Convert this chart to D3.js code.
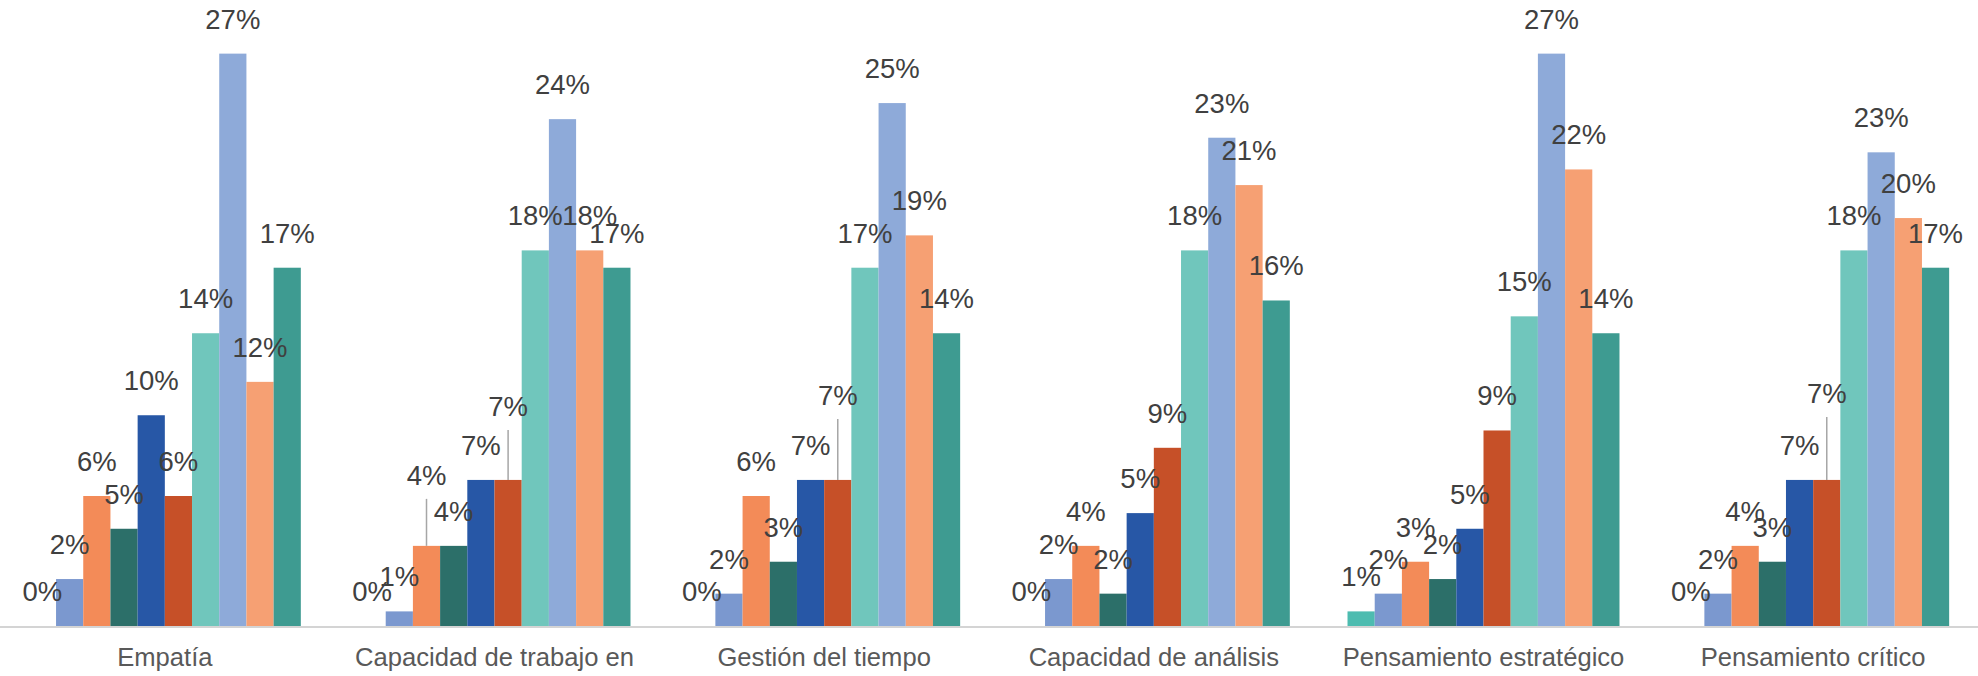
<!DOCTYPE html>
<html>
<head>
<meta charset="utf-8">
<script src="https://cdn.jsdelivr.net/npm/d3@7"></script>
<style>
  html, body { margin: 0; padding: 0; background: #ffffff; }
  svg { display: block; }
</style>
</head>
<body>
<svg id="chart" width="1978" height="676"></svg>
<script>
// Competencias evaluadas (eje X)
const categories = [
  "Empatía",
  "Capacidad de trabajo en",
  "Gestión del tiempo",
  "Capacidad de análisis",
  "Pensamiento estratégico",
  "Pensamiento crítico"
];

// Porcentaje de cada una de las 10 series, por competencia
const empatia       = [0.000, 0.0225, 0.0623, 0.0466, 0.101, 0.0623, 0.1403, 0.2743, 0.117, 0.1717];
const trabajoEquipo = [0.000, 0.0070, 0.0384, 0.0384, 0.070, 0.0700, 0.1800, 0.2429, 0.180, 0.1717];
const gestionTiempo = [0.000, 0.0155, 0.0623, 0.0308, 0.070, 0.0700, 0.1717, 0.2506, 0.1872, 0.1403];
const analisis      = [0.000, 0.0225, 0.0384, 0.0155, 0.0541, 0.0854, 0.1800, 0.2340, 0.2113, 0.1560];
const estrategico   = [0.0070, 0.0155, 0.0308, 0.0225, 0.0466, 0.0937, 0.1484, 0.2743, 0.2188, 0.1403];
const critico       = [0.000, 0.0155, 0.0384, 0.0308, 0.070, 0.0700, 0.1800, 0.2270, 0.1955, 0.1717];

const valuesByCategory = [empatia, trabajoEquipo, gestionTiempo, analisis, estrategico, critico];

// Color de cada serie
const seriesColors = [
  "#4dbcb0", "#7b98cf", "#f38b58", "#2c6f69", "#2757a6",
  "#c65028", "#70c6bc", "#8eaad9", "#f6a073", "#3e9b91"
];

// Etiquetas desplazadas hacia arriba con línea guía: [competencia, serie, desplazamiento px]
const liftedLabels = [[1, 2, 36], [1, 5, 39], [2, 5, 50], [5, 5, 52]];

const width = 1978, height = 676;
const baseY = 626;

const svg = d3.select("#chart");
svg.append("rect").attr("width", width).attr("height", height).attr("fill", "#ffffff");

const x0 = d3.scaleBand()
  .domain(categories)
  .range([0, width])
  .paddingInner(0.175)
  .paddingOuter(0.0875);

const seriesIdx = d3.range(seriesColors.length);
const x1 = d3.scaleBand()
  .domain(seriesIdx)
  .range([0, x0.bandwidth()])
  .padding(0);

const y = d3.scaleLinear().domain([0, 0.30]).range([baseY, 0]);

const fmt = d3.format(".0%");

const rows = [];
categories.forEach((c, ci) => {
  valuesByCategory[ci].forEach((v, si) => rows.push({ c, ci, si, v }));
});

const liftOf = (ci, si) => {
  const m = liftedLabels.find(d => d[0] === ci && d[1] === si);
  return m ? m[2] : 0;
};

// Barras
svg.append("g").selectAll("rect")
  .data(rows)
  .join("rect")
  .attr("x", d => x0(d.c) + x1(d.si))
  .attr("width", x1.bandwidth())
  .attr("y", d => y(d.v))
  .attr("height", d => baseY - y(d.v))
  .attr("fill", d => seriesColors[d.si]);

// Eje X
const xAxis = svg.append("g")
  .attr("transform", `translate(0,${baseY})`)
  .call(d3.axisBottom(x0).tickSize(0).tickPadding(0));
xAxis.select(".domain")
  .attr("stroke", "#d4d4d4")
  .attr("stroke-width", 2)
  .attr("d", `M0,1H${width}`);
xAxis.selectAll(".tick text")
  .attr("y", 40)
  .attr("dy", 0)
  .attr("fill", "#595959")
  .style("font-family", "'Liberation Sans', Arial, sans-serif")
  .style("font-size", "25.6px");

// Líneas guía de etiquetas desplazadas
const labelG = svg.append("g");
labelG.selectAll("line")
  .data(rows.filter(d => liftOf(d.ci, d.si) > 0))
  .join("line")
  .attr("x1", d => x0(d.c) + x1(d.si) + x1.bandwidth() / 2)
  .attr("x2", d => x0(d.c) + x1(d.si) + x1.bandwidth() / 2)
  .attr("y1", d => y(d.v) - 25 - liftOf(d.ci, d.si) + 14)
  .attr("y2", d => y(d.v))
  .attr("stroke", "#a6a6a6")
  .attr("stroke-width", 1.5);

// Etiquetas de datos
labelG.selectAll("text")
  .data(rows)
  .join("text")
  .attr("x", d => x0(d.c) + x1(d.si) + x1.bandwidth() / 2)
  .attr("y", d => y(d.v) - 25 - liftOf(d.ci, d.si))
  .attr("text-anchor", "middle")
  .attr("fill", "#404040")
  .style("font-family", "'Liberation Sans', Arial, sans-serif")
  .style("font-size", "27.5px")
  .text(d => fmt(d.v));
</script>
</body>
</html>
